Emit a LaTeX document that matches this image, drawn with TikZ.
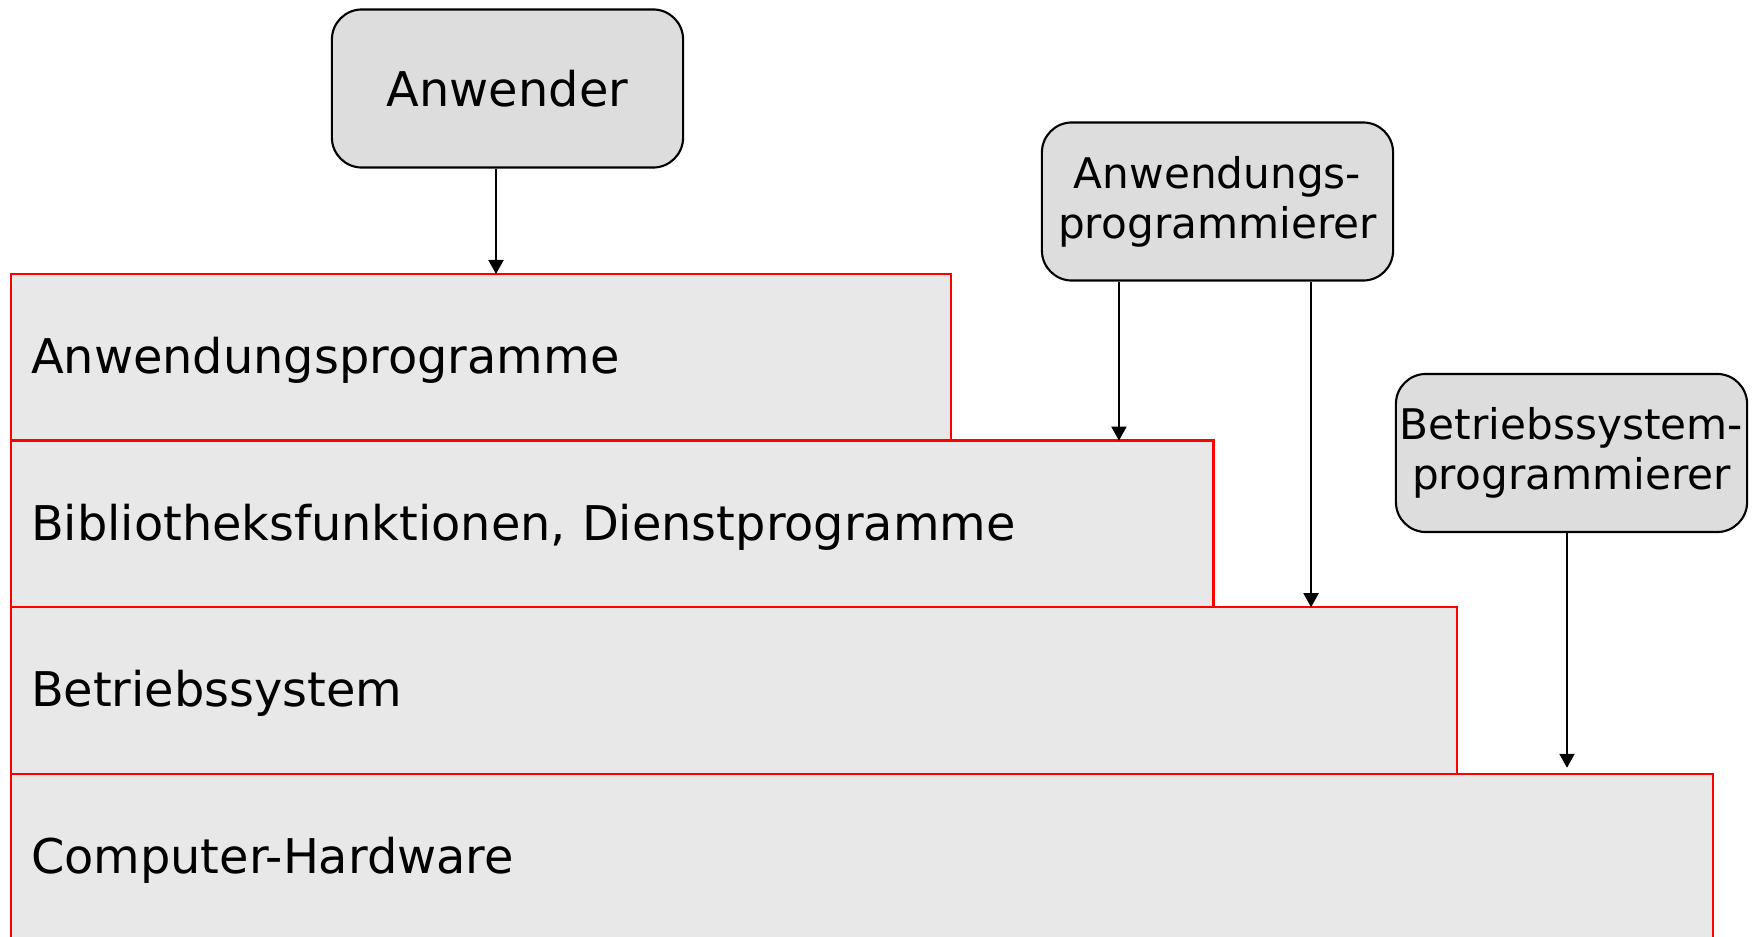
\documentclass[tikz,border=0pt]{standalone}
\usepackage{fontspec}
\setmainfont{DejaVu Sans}
\usepackage{xcolor}
\usepackage{tikz}
\usetikzlibrary{positioning,shapes,arrows.meta}

\definecolor{schichtgrau}{RGB}{232,232,232}
\definecolor{personengrau}{RGB}{221,221,221}

\begin{document}
\begin{tikzpicture}[x=0.01cm, y=-0.01cm,
        schicht/.style = {shape=rectangle, draw=red, line width=0.7pt,
        fill=schichtgrau, anchor=north west, align=left, outer sep=0pt,
        inner xsep=0.2cm, inner ysep=0pt, minimum height=1.665cm,
        text depth=1pt, font=\fontsize{13.6}{16}\selectfont},
        person/.style = {shape=rectangle, rounded corners=0.3cm,
        draw, line width=0.6pt, align=center, fill=personengrau,
        minimum width=3.51cm, minimum height=1.58cm, inner sep=0pt},
        pfeil/.style = {-{Triangle[length=0.14cm,width=0.15cm]},
        line width=0.6pt}]
    \useasboundingbox (0,0) rectangle (1758,937);
    \clip (0,0) rectangle (1758,937);

    % Schichten
    \node[schicht, text width=8.995cm] (l1) at (11,274)
        {Anwendungsprogramme};
    \node[schicht, text width=11.62cm] (l2) at (l1.south west)
        {Bibliotheksfunktionen, Dienstprogramme};
    \node[schicht, text width=14.05cm] (l3) at (l2.south west)
        {Betriebssystem};
    \node[schicht, text width=16.61cm] (l4) at (l3.south west)
        {Computer-Hardware};

    % Personen
    \node[person, font=\fontsize{13.6}{16}\selectfont] (anwender) at (507.5,88.5)
        {Anwender};
    \node[person, font=\fontsize{12}{14.2}\selectfont] (anwprog) at (1217.5,201.5)
        {Anwendungs-\\programmierer};
    \node[person, font=\fontsize{12}{14.2}\selectfont] (bsprog) at (1571.5,453)
        {Betriebssystem-\\programmierer};

    % Pfeile
    \draw[pfeil] ([xshift=-0.115cm]anwender.south)
        -- ([xshift=-0.115cm]anwender.south |- l1.north);
    \draw[pfeil] ([xshift=-0.985cm]anwprog.south)
        -- ([xshift=-0.985cm]anwprog.south |- l2.north);
    \draw[pfeil] ([xshift=0.935cm]anwprog.south)
        -- ([xshift=0.935cm]anwprog.south |- l3.north);
    \draw[pfeil, shorten >=0.06cm] ([xshift=-0.045cm]bsprog.south)
        -- ([xshift=-0.045cm]bsprog.south |- l4.north);
\end{tikzpicture}
\end{document}
